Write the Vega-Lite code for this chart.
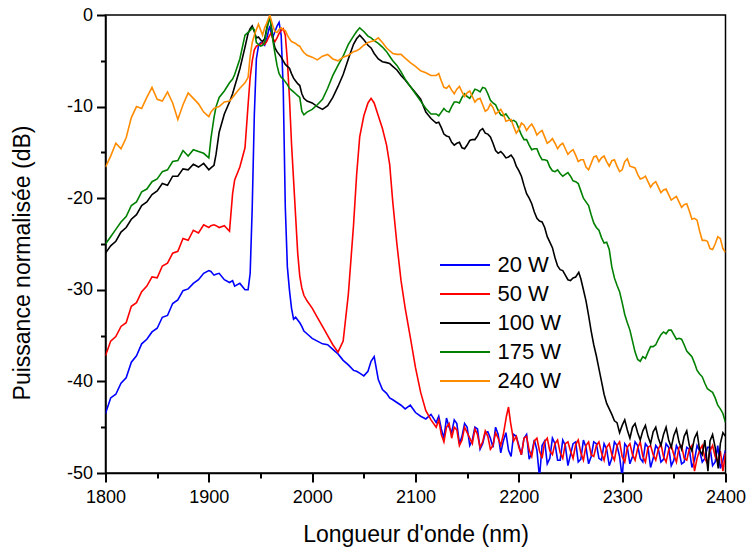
{
"$schema": "https://vega.github.io/schema/vega-lite/v6.json",
"width": 620, "height": 458,
"autosize": {"type": "none"},
"padding": {"left": 105.5, "top": 15, "right": 22, "bottom": 74},
"background": "white",
"config": {
  "font": "Liberation Sans",
  "view": {"stroke": "black", "strokeWidth": 1.5},
  "axis": {"labelColor": "black", "titleColor": "black", "labelFontSize": 18, "titleFontSize": 23, "titleFontWeight": "normal", "grid": false, "labelFont": "Liberation Sans", "titleFont": "Liberation Sans", "labelOverlap": false, "labelFlush": false}
},
"data": {"values": [
{"w":1800,"20 W":-43.5,"50 W":-37.2,"100 W":-26.0,"175 W":-25.0,"240 W":-16.6},
{"w":1805,"20 W":-41.8,"50 W":-35.6,"100 W":-25.2,"175 W":-24.2,"240 W":-15.4},
{"w":1810,"20 W":-41.4,"50 W":-35.1,"100 W":-24.7,"175 W":-23.4,"240 W":-14.0},
{"w":1815,"20 W":-40.2,"50 W":-34.0,"100 W":-23.7,"175 W":-22.6,"240 W":-14.6},
{"w":1820,"20 W":-39.6,"50 W":-33.6,"100 W":-23.2,"175 W":-22.0,"240 W":-13.4},
{"w":1825,"20 W":-37.9,"50 W":-31.8,"100 W":-22.3,"175 W":-20.8,"240 W":-11.2},
{"w":1830,"20 W":-37.2,"50 W":-31.4,"100 W":-21.8,"175 W":-20.4,"240 W":-10.0},
{"w":1835,"20 W":-35.9,"50 W":-30.2,"100 W":-20.8,"175 W":-19.3,"240 W":-10.2},
{"w":1840,"20 W":-35.4,"50 W":-29.6,"100 W":-20.4,"175 W":-19.0,"240 W":-9.0},
{"w":1845,"20 W":-34.6,"50 W":-28.6,"100 W":-19.6,"175 W":-18.2,"240 W":-7.9},
{"w":1850,"20 W":-34.2,"50 W":-28.7,"100 W":-19.2,"175 W":-17.9,"240 W":-9.2},
{"w":1855,"20 W":-33.0,"50 W":-27.4,"100 W":-18.4,"175 W":-17.1,"240 W":-9.4},
{"w":1860,"20 W":-32.8,"50 W":-27.1,"100 W":-18.6,"175 W":-16.9,"240 W":-8.4},
{"w":1865,"20 W":-31.5,"50 W":-26.0,"100 W":-17.6,"175 W":-16.0,"240 W":-9.6},
{"w":1870,"20 W":-31.1,"50 W":-25.8,"100 W":-17.6,"175 W":-15.9,"240 W":-11.4},
{"w":1875,"20 W":-30.1,"50 W":-24.4,"100 W":-16.8,"175 W":-14.8,"240 W":-9.8},
{"w":1880,"20 W":-29.9,"50 W":-24.6,"100 W":-16.9,"175 W":-15.4,"240 W":-8.5},
{"w":1885,"20 W":-29.3,"50 W":-23.5,"100 W":-16.3,"175 W":-14.7,"240 W":-9.1},
{"w":1890,"20 W":-28.9,"50 W":-23.8,"100 W":-16.6,"175 W":-14.9,"240 W":-9.7},
{"w":1895,"20 W":-28.2,"50 W":-22.9,"100 W":-16.2,"175 W":-15.1,"240 W":-10.6},
{"w":1900,"20 W":-27.9,"50 W":-23.2,"100 W":-16.9,"175 W":-15.6,"240 W":-11.1},
{"w":1902,"20 W":-28.0,"50 W":-23.0,"100 W":-16.7,"175 W":-13.5,"240 W":-10.6},
{"w":1905,"20 W":-28.4,"50 W":-22.9,"100 W":-16.4,"175 W":-11.2,"240 W":-10.2},
{"w":1907,"20 W":-28.3,"50 W":-23.0,"100 W":-15.2,"175 W":-10.0,"240 W":-10.1},
{"w":1910,"20 W":-28.2,"50 W":-23.2,"100 W":-12.8,"175 W":-9.0,"240 W":-10.0},
{"w":1915,"20 W":-28.9,"50 W":-23.0,"100 W":-10.8,"175 W":-8.3,"240 W":-9.5},
{"w":1920,"20 W":-29.2,"50 W":-23.6,"100 W":-9.5,"175 W":-7.4,"240 W":-9.4},
{"w":1923,"20 W":-29.0,"50 W":-19.5,"100 W":-8.6,"175 W":-7.0,"240 W":-9.0},
{"w":1925,"20 W":-29.6,"50 W":-18.0,"100 W":-7.8,"175 W":-6.5,"240 W":-8.7},
{"w":1930,"20 W":-29.3,"50 W":-16.6,"100 W":-5.9,"175 W":-4.8,"240 W":-8.0},
{"w":1935,"20 W":-30.0,"50 W":-14.5,"100 W":-3.5,"175 W":-2.2,"240 W":-7.4},
{"w":1938,"20 W":-30.0,"50 W":-9.8,"100 W":-2.0,"175 W":-1.9,"240 W":-6.8},
{"w":1940,"20 W":-28.2,"50 W":-6.8,"100 W":-1.5,"175 W":-1.7,"240 W":-4.5},
{"w":1942,"20 W":-21.0,"50 W":-5.0,"100 W":-1.2,"175 W":-1.4,"240 W":-3.0},
{"w":1944,"20 W":-11.0,"50 W":-3.8,"100 W":-1.8,"175 W":-1.6,"240 W":-2.2},
{"w":1946,"20 W":-4.8,"50 W":-3.4,"100 W":-2.5,"175 W":-3.0,"240 W":-1.6},
{"w":1948,"20 W":-3.4,"50 W":-3.3,"100 W":-2.4,"175 W":-3.2,"240 W":-1.0},
{"w":1950,"20 W":-3.0,"50 W":-3.2,"100 W":-2.7,"175 W":-3.4,"240 W":-1.6},
{"w":1952,"20 W":-3.1,"50 W":-3.0,"100 W":-2.9,"175 W":-3.3,"240 W":-2.2},
{"w":1954,"20 W":-3.3,"50 W":-3.2,"100 W":-2.6,"175 W":-3.0,"240 W":-1.4},
{"w":1956,"20 W":-2.6,"50 W":-2.9,"100 W":-1.5,"175 W":-1.6,"240 W":-0.9},
{"w":1958,"20 W":-1.6,"50 W":-2.4,"100 W":-0.5,"175 W":-0.6,"240 W":-0.3},
{"w":1959,"20 W":-1.2,"50 W":-2.2,"100 W":-0.2,"175 W":-0.3,"240 W":0.0},
{"w":1960,"20 W":-1.8,"50 W":-2.0,"100 W":-0.8,"175 W":-1.0,"240 W":-0.4},
{"w":1962,"20 W":-2.4,"50 W":-2.6,"100 W":-2.6,"175 W":-2.8,"240 W":-1.2},
{"w":1964,"20 W":-1.8,"50 W":-2.9,"100 W":-3.6,"175 W":-4.2,"240 W":-1.8},
{"w":1966,"20 W":-1.2,"50 W":-2.5,"100 W":-4.0,"175 W":-5.5,"240 W":-1.9},
{"w":1968,"20 W":-0.8,"50 W":-2.0,"100 W":-4.3,"175 W":-6.4,"240 W":-1.6},
{"w":1970,"20 W":-2.2,"50 W":-1.7,"100 W":-4.6,"175 W":-6.8,"240 W":-1.4},
{"w":1972,"20 W":-8.0,"50 W":-1.5,"100 W":-5.0,"175 W":-7.0,"240 W":-1.6},
{"w":1974,"20 W":-21.0,"50 W":-2.2,"100 W":-5.4,"175 W":-7.3,"240 W":-1.7},
{"w":1976,"20 W":-27.5,"50 W":-5.0,"100 W":-5.6,"175 W":-7.6,"240 W":-2.2},
{"w":1978,"20 W":-30.0,"50 W":-9.0,"100 W":-5.8,"175 W":-8.0,"240 W":-2.6},
{"w":1980,"20 W":-32.0,"50 W":-14.0,"100 W":-6.4,"175 W":-8.2,"240 W":-2.9},
{"w":1982,"20 W":-33.2,"50 W":-18.0,"100 W":-6.9,"175 W":-8.4,"240 W":-3.0},
{"w":1984,"20 W":-33.0,"50 W":-22.0,"100 W":-7.2,"175 W":-8.6,"240 W":-3.1},
{"w":1986,"20 W":-33.3,"50 W":-26.0,"100 W":-7.5,"175 W":-8.8,"240 W":-3.3},
{"w":1988,"20 W":-33.6,"50 W":-28.5,"100 W":-7.7,"175 W":-9.0,"240 W":-3.4},
{"w":1990,"20 W":-34.0,"50 W":-29.8,"100 W":-8.6,"175 W":-10.5,"240 W":-3.8},
{"w":1992,"20 W":-34.5,"50 W":-30.6,"100 W":-9.1,"175 W":-10.9,"240 W":-4.1},
{"w":1995,"20 W":-34.8,"50 W":-31.2,"100 W":-9.4,"175 W":-10.6,"240 W":-4.4},
{"w":2000,"20 W":-35.3,"50 W":-32.0,"100 W":-9.6,"175 W":-10.3,"240 W":-4.6},
{"w":2005,"20 W":-35.6,"50 W":-33.0,"100 W":-10.0,"175 W":-9.8,"240 W":-4.9},
{"w":2010,"20 W":-35.9,"50 W":-34.0,"100 W":-10.3,"175 W":-9.2,"240 W":-4.5},
{"w":2015,"20 W":-36.0,"50 W":-35.0,"100 W":-9.9,"175 W":-8.0,"240 W":-4.3},
{"w":2020,"20 W":-36.5,"50 W":-36.0,"100 W":-9.0,"175 W":-6.6,"240 W":-4.8},
{"w":2025,"20 W":-37.0,"50 W":-36.8,"100 W":-7.8,"175 W":-5.5,"240 W":-5.0},
{"w":2030,"20 W":-37.7,"50 W":-35.6,"100 W":-6.5,"175 W":-4.5,"240 W":-4.6},
{"w":2035,"20 W":-38.2,"50 W":-30.5,"100 W":-4.8,"175 W":-3.2,"240 W":-4.4},
{"w":2040,"20 W":-38.8,"50 W":-23.0,"100 W":-3.2,"175 W":-2.3,"240 W":-4.0},
{"w":2043,"20 W":-38.9,"50 W":-17.5,"100 W":-2.6,"175 W":-1.8,"240 W":-3.9},
{"w":2046,"20 W":-39.1,"50 W":-13.3,"100 W":-2.2,"175 W":-1.4,"240 W":-3.7},
{"w":2050,"20 W":-39.4,"50 W":-11.0,"100 W":-2.7,"175 W":-1.8,"240 W":-3.3},
{"w":2054,"20 W":-38.9,"50 W":-9.6,"100 W":-3.3,"175 W":-2.3,"240 W":-3.0},
{"w":2057,"20 W":-37.8,"50 W":-9.1,"100 W":-3.6,"175 W":-2.5,"240 W":-2.9},
{"w":2060,"20 W":-37.3,"50 W":-9.6,"100 W":-4.2,"175 W":-2.8,"240 W":-2.8},
{"w":2064,"20 W":-39.8,"50 W":-11.0,"100 W":-4.8,"175 W":-3.1,"240 W":-2.5},
{"w":2068,"20 W":-40.9,"50 W":-12.4,"100 W":-5.1,"175 W":-3.5,"240 W":-3.0},
{"w":2072,"20 W":-41.3,"50 W":-14.2,"100 W":-5.2,"175 W":-4.0,"240 W":-3.6},
{"w":2075,"20 W":-41.8,"50 W":-16.3,"100 W":-5.3,"175 W":-4.5,"240 W":-3.9},
{"w":2078,"20 W":-42.0,"50 W":-20.4,"100 W":-5.6,"175 W":-5.0,"240 W":-4.2},
{"w":2082,"20 W":-42.3,"50 W":-25.0,"100 W":-6.0,"175 W":-5.5,"240 W":-4.3},
{"w":2086,"20 W":-42.6,"50 W":-29.0,"100 W":-6.6,"175 W":-6.2,"240 W":-4.3},
{"w":2090,"20 W":-43.0,"50 W":-32.0,"100 W":-7.1,"175 W":-7.0,"240 W":-4.7},
{"w":2095,"20 W":-42.6,"50 W":-35.2,"100 W":-7.8,"175 W":-7.8,"240 W":-5.2},
{"w":2100,"20 W":-43.4,"50 W":-38.5,"100 W":-8.5,"175 W":-8.6,"240 W":-5.6},
{"w":2105,"20 W":-43.8,"50 W":-41.2,"100 W":-9.2,"175 W":-9.4,"240 W":-6.1},
{"w":2110,"20 W":-44.1,"50 W":-43.2,"100 W":-10.6,"175 W":-10.2,"240 W":-6.3},
{"w":2115,"20 W":-43.6,"50 W":-44.2,"100 W":-11.3,"175 W":-10.8,"240 W":-6.6},
{"w":2120,"20 W":-44.5,"50 W":-45.0,"100 W":-11.8,"175 W":-10.8,"240 W":-6.6},
{"w":2125,"20 W":-45.2,"50 W":-45.8,"100 W":-12.3,"175 W":-10.6,"240 W":-7.2},
{"w":2130,"20 W":-44.0,"50 W":-45.0,"100 W":-13.2,"175 W":-10.5,"240 W":-8.0},
{"w":2135,"20 W":-45.6,"50 W":-46.2,"100 W":-13.9,"175 W":-10.0,"240 W":-8.2},
{"w":2140,"20 W":-44.6,"50 W":-45.3,"100 W":-14.0,"175 W":-9.5,"240 W":-8.1},
{"w":2145,"20 W":-46.0,"50 W":-46.4,"100 W":-14.5,"175 W":-9.0,"240 W":-8.4},
{"w":2150,"20 W":-45.0,"50 W":-45.6,"100 W":-14.2,"175 W":-8.9,"240 W":-8.5},
{"w":2155,"20 W":-46.4,"50 W":-46.8,"100 W":-13.6,"175 W":-8.6,"240 W":-8.9},
{"w":2160,"20 W":-45.2,"50 W":-45.8,"100 W":-13.2,"175 W":-8.2,"240 W":-9.2},
{"w":2165,"20 W":-46.8,"50 W":-46.6,"100 W":-12.4,"175 W":-7.9,"240 W":-9.8},
{"w":2170,"20 W":-45.5,"50 W":-46.0,"100 W":-13.0,"175 W":-8.6,"240 W":-10.3},
{"w":2175,"20 W":-47.2,"50 W":-47.0,"100 W":-14.0,"175 W":-9.6,"240 W":-10.1},
{"w":2180,"20 W":-45.8,"50 W":-46.2,"100 W":-15.1,"175 W":-10.4,"240 W":-10.6},
{"w":2185,"20 W":-46.5,"50 W":-45.8,"100 W":-15.2,"175 W":-11.0,"240 W":-10.8},
{"w":2188,"20 W":null,"50 W":-43.8,"100 W":null,"175 W":null,"240 W":null},
{"w":2190,"20 W":-47.5,"50 W":-42.8,"100 W":-15.5,"175 W":-11.2,"240 W":-11.5},
{"w":2192,"20 W":null,"50 W":-44.5,"100 W":null,"175 W":null,"240 W":null},
{"w":2195,"20 W":-45.8,"50 W":-46.5,"100 W":-15.7,"175 W":-11.5,"240 W":-12.2},
{"w":2200,"20 W":-47.0,"50 W":-47.2,"100 W":-17.0,"175 W":-12.4,"240 W":-12.5},
{"w":2205,"20 W":-46.2,"50 W":-46.2,"100 W":-18.6,"175 W":-13.6,"240 W":-12.0},
{"w":2210,"20 W":-48.5,"50 W":-47.5,"100 W":-20.0,"175 W":-14.2,"240 W":-12.2},
{"w":2215,"20 W":-46.4,"50 W":-46.5,"100 W":-21.5,"175 W":-14.6,"240 W":-12.4},
{"w":2220,"20 W":-50.5,"50 W":-47.6,"100 W":-22.5,"175 W":-15.3,"240 W":-12.8},
{"w":2225,"20 W":-46.5,"50 W":-46.6,"100 W":-23.2,"175 W":-15.8,"240 W":-13.3},
{"w":2230,"20 W":-48.4,"50 W":-47.6,"100 W":-24.8,"175 W":-16.6,"240 W":-13.8},
{"w":2235,"20 W":-46.8,"50 W":-46.8,"100 W":-26.5,"175 W":-17.1,"240 W":-14.0},
{"w":2240,"20 W":-48.6,"50 W":-47.8,"100 W":-27.8,"175 W":-17.3,"240 W":-14.2},
{"w":2245,"20 W":-47.0,"50 W":-46.8,"100 W":-28.4,"175 W":-17.4,"240 W":-14.6},
{"w":2250,"20 W":-48.0,"50 W":-47.6,"100 W":-29.0,"175 W":-17.6,"240 W":-14.9},
{"w":2255,"20 W":-46.6,"50 W":-46.9,"100 W":-28.6,"175 W":-18.2,"240 W":-15.3},
{"w":2258,"20 W":null,"50 W":null,"100 W":-28.1,"175 W":null,"240 W":null},
{"w":2260,"20 W":-48.5,"50 W":-47.8,"100 W":-28.8,"175 W":-19.2,"240 W":-15.8},
{"w":2265,"20 W":-47.2,"50 W":-47.0,"100 W":-31.2,"175 W":-20.4,"240 W":-16.6},
{"w":2270,"20 W":-48.2,"50 W":-48.0,"100 W":-34.5,"175 W":-21.8,"240 W":-16.2},
{"w":2275,"20 W":-46.8,"50 W":-47.0,"100 W":-37.2,"175 W":-23.2,"240 W":-15.4},
{"w":2280,"20 W":-48.6,"50 W":-47.8,"100 W":-40.0,"175 W":-24.3,"240 W":-15.6},
{"w":2285,"20 W":-47.4,"50 W":-47.2,"100 W":-42.4,"175 W":-24.8,"240 W":-16.0},
{"w":2290,"20 W":-48.4,"50 W":-48.0,"100 W":-43.6,"175 W":-27.5,"240 W":-15.9},
{"w":2295,"20 W":-47.0,"50 W":-47.0,"100 W":-44.5,"175 W":-29.5,"240 W":-16.5},
{"w":2300,"20 W":-50.5,"50 W":-48.2,"100 W":-44.8,"175 W":-31.4,"240 W":-16.9},
{"w":2305,"20 W":-47.2,"50 W":-47.2,"100 W":-45.3,"175 W":-33.6,"240 W":-15.7},
{"w":2310,"20 W":-48.2,"50 W":-48.0,"100 W":-45.0,"175 W":-35.6,"240 W":-16.6},
{"w":2315,"20 W":-47.0,"50 W":-47.3,"100 W":-45.6,"175 W":-37.6,"240 W":-17.4},
{"w":2320,"20 W":-48.8,"50 W":-48.2,"100 W":-45.4,"175 W":-37.3,"240 W":-17.8},
{"w":2325,"20 W":-47.2,"50 W":-47.2,"100 W":-46.0,"175 W":-36.8,"240 W":-18.2},
{"w":2330,"20 W":-48.4,"50 W":-48.0,"100 W":-45.5,"175 W":-36.2,"240 W":-18.4},
{"w":2335,"20 W":-47.4,"50 W":-47.4,"100 W":-46.2,"175 W":-35.4,"240 W":-18.8},
{"w":2340,"20 W":-48.5,"50 W":-48.2,"100 W":-45.8,"175 W":-34.6,"240 W":-19.1},
{"w":2345,"20 W":-47.2,"50 W":-47.5,"100 W":-46.4,"175 W":-34.4,"240 W":-19.6},
{"w":2350,"20 W":-48.6,"50 W":-48.0,"100 W":-45.9,"175 W":-34.9,"240 W":-20.0},
{"w":2355,"20 W":-47.6,"50 W":-47.2,"100 W":-46.6,"175 W":-35.3,"240 W":-20.4},
{"w":2360,"20 W":-48.8,"50 W":-48.4,"100 W":-46.0,"175 W":-36.0,"240 W":-20.7},
{"w":2365,"20 W":-47.4,"50 W":-47.4,"100 W":-47.0,"175 W":-37.0,"240 W":-21.4},
{"w":2370,"20 W":-48.6,"50 W":-49.8,"100 W":-46.2,"175 W":-38.0,"240 W":-22.2},
{"w":2375,"20 W":-47.6,"50 W":-47.5,"100 W":-47.5,"175 W":-39.2,"240 W":-23.6},
{"w":2380,"20 W":-48.4,"50 W":-48.4,"100 W":-46.4,"175 W":-40.2,"240 W":-24.6},
{"w":2383,"20 W":null,"50 W":null,"100 W":-49.8,"175 W":null,"240 W":null},
{"w":2385,"20 W":-47.2,"50 W":-47.6,"100 W":-46.5,"175 W":-41.0,"240 W":-25.5},
{"w":2390,"20 W":-48.8,"50 W":-48.2,"100 W":-47.2,"175 W":-41.8,"240 W":-25.0},
{"w":2393,"20 W":null,"50 W":null,"100 W":-49.5,"175 W":null,"240 W":null},
{"w":2395,"20 W":-49.5,"50 W":-47.6,"100 W":-46.8,"175 W":-43.0,"240 W":-24.4},
{"w":2400,"20 W":-47.5,"50 W":-47.8,"100 W":-46.0,"175 W":-44.5,"240 W":-25.9},
{"w":2122.5,"20 W":-43.8,"50 W":-44.2,"100 W":-11.7,"175 W":-11.0,"240 W":-6.4},
{"w":2127.5,"20 W":-46.2,"50 W":-46.6,"100 W":-13.0,"175 W":-10.2,"240 W":-7.9},
{"w":2132.5,"20 W":-45.0,"50 W":-44.6,"100 W":-13.3,"175 W":-10.6,"240 W":-7.7},
{"w":2137.5,"20 W":-44.2,"50 W":-45.0,"100 W":-14.2,"175 W":-9.5,"240 W":-8.6},
{"w":2142.5,"20 W":-46.8,"50 W":-47.0,"100 W":-13.9,"175 W":-9.6,"240 W":-7.8},
{"w":2147.5,"20 W":-44.6,"50 W":-45.0,"100 W":-14.6,"175 W":-8.6,"240 W":-8.9},
{"w":2152.5,"20 W":-47.0,"50 W":-46.2,"100 W":-13.7,"175 W":-9.1,"240 W":-8.3},
{"w":2157.5,"20 W":-45.0,"50 W":-45.2,"100 W":-13.6,"175 W":-8.1,"240 W":-9.5},
{"w":2162.5,"20 W":-47.4,"50 W":-47.2,"100 W":-12.6,"175 W":-8.4,"240 W":-9.1},
{"w":2167.5,"20 W":-45.6,"50 W":-45.4,"100 W":-12.9,"175 W":-8.0,"240 W":-10.5},
{"w":2172.5,"20 W":-46.2,"50 W":-47.4,"100 W":-13.3,"175 W":-9.3,"240 W":-9.7},
{"w":2177.5,"20 W":-45.0,"50 W":-45.6,"100 W":-14.8,"175 W":-9.8,"240 W":-10.8},
{"w":2182.5,"20 W":-47.8,"50 W":-47.0,"100 W":-14.9,"175 W":-10.9,"240 W":-10.3},
{"w":2187.5,"20 W":-45.6,"50 W":null,"100 W":-15.6,"175 W":-10.8,"240 W":-11.6},
{"w":2192.5,"20 W":-48.2,"50 W":null,"100 W":-15.3,"175 W":-11.6,"240 W":-11.4},
{"w":2197.5,"20 W":-46.0,"50 W":-46.0,"100 W":-16.5,"175 W":-11.7,"240 W":-12.9},
{"w":2202.5,"20 W":-48.0,"50 W":-48.0,"100 W":-17.6,"175 W":-13.1,"240 W":-11.8},
{"w":2207.5,"20 W":-45.8,"50 W":-46.0,"100 W":-19.5,"175 W":-13.6,"240 W":-12.6},
{"w":2212.5,"20 W":-47.8,"50 W":-48.2,"100 W":-20.6,"175 W":-14.7,"240 W":-11.9},
{"w":2217.5,"20 W":-47.5,"50 W":-46.2,"100 W":-22.2,"175 W":-14.6,"240 W":-13.1},
{"w":2222.5,"20 W":-47.0,"50 W":-48.4,"100 W":-22.6,"175 W":-15.8,"240 W":-12.6},
{"w":2227.5,"20 W":-49.0,"50 W":-46.2,"100 W":-24.2,"175 W":-15.9,"240 W":-14.0},
{"w":2232.5,"20 W":-46.2,"50 W":-48.0,"100 W":-25.4,"175 W":-17.0,"240 W":-13.5},
{"w":2237.5,"20 W":-48.6,"50 W":-46.4,"100 W":-27.4,"175 W":-16.9,"240 W":-14.6},
{"w":2242.5,"20 W":-46.4,"50 W":-48.4,"100 W":-27.9,"175 W":-17.6,"240 W":-14.0},
{"w":2247.5,"20 W":-49.2,"50 W":-46.6,"100 W":-28.9,"175 W":-17.2,"240 W":-15.2},
{"w":2252.5,"20 W":-46.8,"50 W":-48.4,"100 W":-28.7,"175 W":-18.1,"240 W":-14.7},
{"w":2257.5,"20 W":-48.8,"50 W":-46.4,"100 W":null,"175 W":-18.4,"240 W":-16.0},
{"w":2262.5,"20 W":-46.4,"50 W":-48.6,"100 W":-30.0,"175 W":-20.0,"240 W":-15.8},
{"w":2267.5,"20 W":-49.0,"50 W":-46.6,"100 W":-32.8,"175 W":-20.8,"240 W":-16.9},
{"w":2272.5,"20 W":-46.6,"50 W":-48.2,"100 W":-36.0,"175 W":-22.7,"240 W":-15.5},
{"w":2277.5,"20 W":-48.4,"50 W":-46.6,"100 W":-38.6,"175 W":-23.5,"240 W":-16.0},
{"w":2282.5,"20 W":-46.8,"50 W":-48.6,"100 W":-41.4,"175 W":-24.9,"240 W":-15.4},
{"w":2287.5,"20 W":-49.2,"50 W":-46.8,"100 W":-43.0,"175 W":-25.6,"240 W":-16.5},
{"w":2292.5,"20 W":-46.6,"50 W":-48.6,"100 W":-44.3,"175 W":-28.7,"240 W":-15.8},
{"w":2297.5,"20 W":-48.2,"50 W":-46.6,"100 W":-45.6,"175 W":-30.2,"240 W":-17.1},
{"w":2302.5,"20 W":-46.8,"50 W":-48.8,"100 W":-44.2,"175 W":-32.7,"240 W":-16.0},
{"w":2307.5,"20 W":-49.0,"50 W":-46.8,"100 W":-46.2,"175 W":-34.4,"240 W":-16.5},
{"w":2312.5,"20 W":-46.6,"50 W":-48.6,"100 W":-44.6,"175 W":-36.8,"240 W":-16.7},
{"w":2317.5,"20 W":-48.4,"50 W":-46.6,"100 W":-46.4,"175 W":-37.8,"240 W":-17.9},
{"w":2322.5,"20 W":-46.8,"50 W":-48.8,"100 W":-44.8,"175 W":-37.5,"240 W":-17.6},
{"w":2327.5,"20 W":-49.4,"50 W":-47.0,"100 W":-46.8,"175 W":-36.2,"240 W":-18.8},
{"w":2332.5,"20 W":-47.0,"50 W":-48.6,"100 W":-45.0,"175 W":-36.0,"240 W":-18.2},
{"w":2337.5,"20 W":-48.8,"50 W":-46.8,"100 W":-47.0,"175 W":-34.9,"240 W":-19.4},
{"w":2342.5,"20 W":-46.8,"50 W":-48.8,"100 W":-45.0,"175 W":-34.8,"240 W":-19.0},
{"w":2347.5,"20 W":-49.2,"50 W":-47.0,"100 W":-47.2,"175 W":-34.4,"240 W":-20.2},
{"w":2352.5,"20 W":-47.0,"50 W":-48.8,"100 W":-45.2,"175 W":-35.4,"240 W":-19.8},
{"w":2357.5,"20 W":-49.0,"50 W":-47.0,"100 W":-47.4,"175 W":-35.4,"240 W":-21.0},
{"w":2362.5,"20 W":-47.2,"50 W":-48.6,"100 W":-45.4,"175 W":-36.7,"240 W":-20.6},
{"w":2367.5,"20 W":-49.4,"50 W":-47.0,"100 W":-47.6,"175 W":-37.3,"240 W":-22.3},
{"w":2372.5,"20 W":-47.0,"50 W":-48.4,"100 W":-45.6,"175 W":-38.8,"240 W":-22.4},
{"w":2377.5,"20 W":-48.8,"50 W":-47.0,"100 W":-48.0,"175 W":-39.5,"240 W":-24.6},
{"w":2382.5,"20 W":-47.2,"50 W":-49.0,"100 W":null,"175 W":-40.8,"240 W":-24.7},
{"w":2387.5,"20 W":-49.2,"50 W":-47.0,"100 W":-45.8,"175 W":-41.2,"240 W":-25.6},
{"w":2392.5,"20 W":-47.0,"50 W":-48.8,"100 W":null,"175 W":-42.6,"240 W":-24.2},
{"w":2397.5,"20 W":-48.6,"50 W":-49.8,"100 W":-45.6,"175 W":-43.5,"240 W":-25.5}
]},
"transform": [
  {"fold": ["20 W", "50 W", "100 W", "175 W", "240 W"], "as": ["serie", "p"]},
  {"filter": "isValid(datum.p)"}
],
"layer": [
  {
    "mark": {"type": "line", "opacity": 0},
    "encoding": {
      "x": {"field": "w", "type": "quantitative",
        "scale": {"domain": [1800, 2400], "nice": false, "zero": false},
        "axis": {"orient": "bottom", "values": [1850,1950,2050,2150,2250,2350], "ticks": true, "tickSize": 5, "tickColor": "#000000", "tickWidth": 2, "labels": false, "domain": false, "title": null}},
      "y": {"field": "p", "type": "quantitative",
        "scale": {"domain": [-50, 0], "nice": false, "zero": false},
        "axis": {"orient": "left", "values": [-45,-35,-25,-15,-5], "ticks": true, "tickSize": 5, "tickColor": "#000000", "tickWidth": 2, "labels": false, "domain": false, "title": null}},
      "detail": {"field": "serie"}
    }
  },
  {
    "mark": {"type": "line", "strokeWidth": 1.6, "clip": true},
    "encoding": {
      "x": {"field": "w", "type": "quantitative",
        "scale": {"domain": [1800, 2400], "nice": false, "zero": false},
        "axis": {"orient": "bottom", "values": [1800,1900,2000,2100,2200,2300,2400], "ticks": true, "tickSize": 9, "tickColor": "#000000", "tickWidth": 2,
          "domainColor": "black", "domainWidth": 1.5,
          "labelExpr": "toString(datum.value)",
          "labelPadding": 6, "title": "Longueur d'onde (nm)", "titlePadding": 17}},
      "y": {"field": "p", "type": "quantitative",
        "scale": {"domain": [-50, 0], "nice": false, "zero": false},
        "axis": {"orient": "left", "values": [-50,-40,-30,-20,-10,0], "ticks": true, "tickSize": 9, "tickColor": "#000000", "tickWidth": 2,
          "domainColor": "black", "domainWidth": 1.5,
          "labelExpr": "toString(datum.value)",
          "labelPadding": 4, "title": "Puissance normalisée (dB)", "titleX": -71, "titleY": 247.5}},
      "color": {"field": "serie", "type": "nominal",
        "scale": {"domain": ["20 W", "50 W", "100 W", "175 W", "240 W"], "range": ["#0000ff", "#ff0000", "#000000", "#008000", "#ff8c00"]},
        "legend": {"orient": "none", "legendX": 346, "legendY": 236.5, "title": null, "padding": 0,
          "symbolType": "M-2,0H2", "symbolSize": 625, "symbolStrokeWidth": 2,
          "labelFontSize": 22, "labelColor": "black", "labelFont": "Liberation Sans", "labelOffset": 19, "rowPadding": 4}}
    }
  }
],
"resolve": {"axis": {"x": "independent", "y": "independent"}}
}
